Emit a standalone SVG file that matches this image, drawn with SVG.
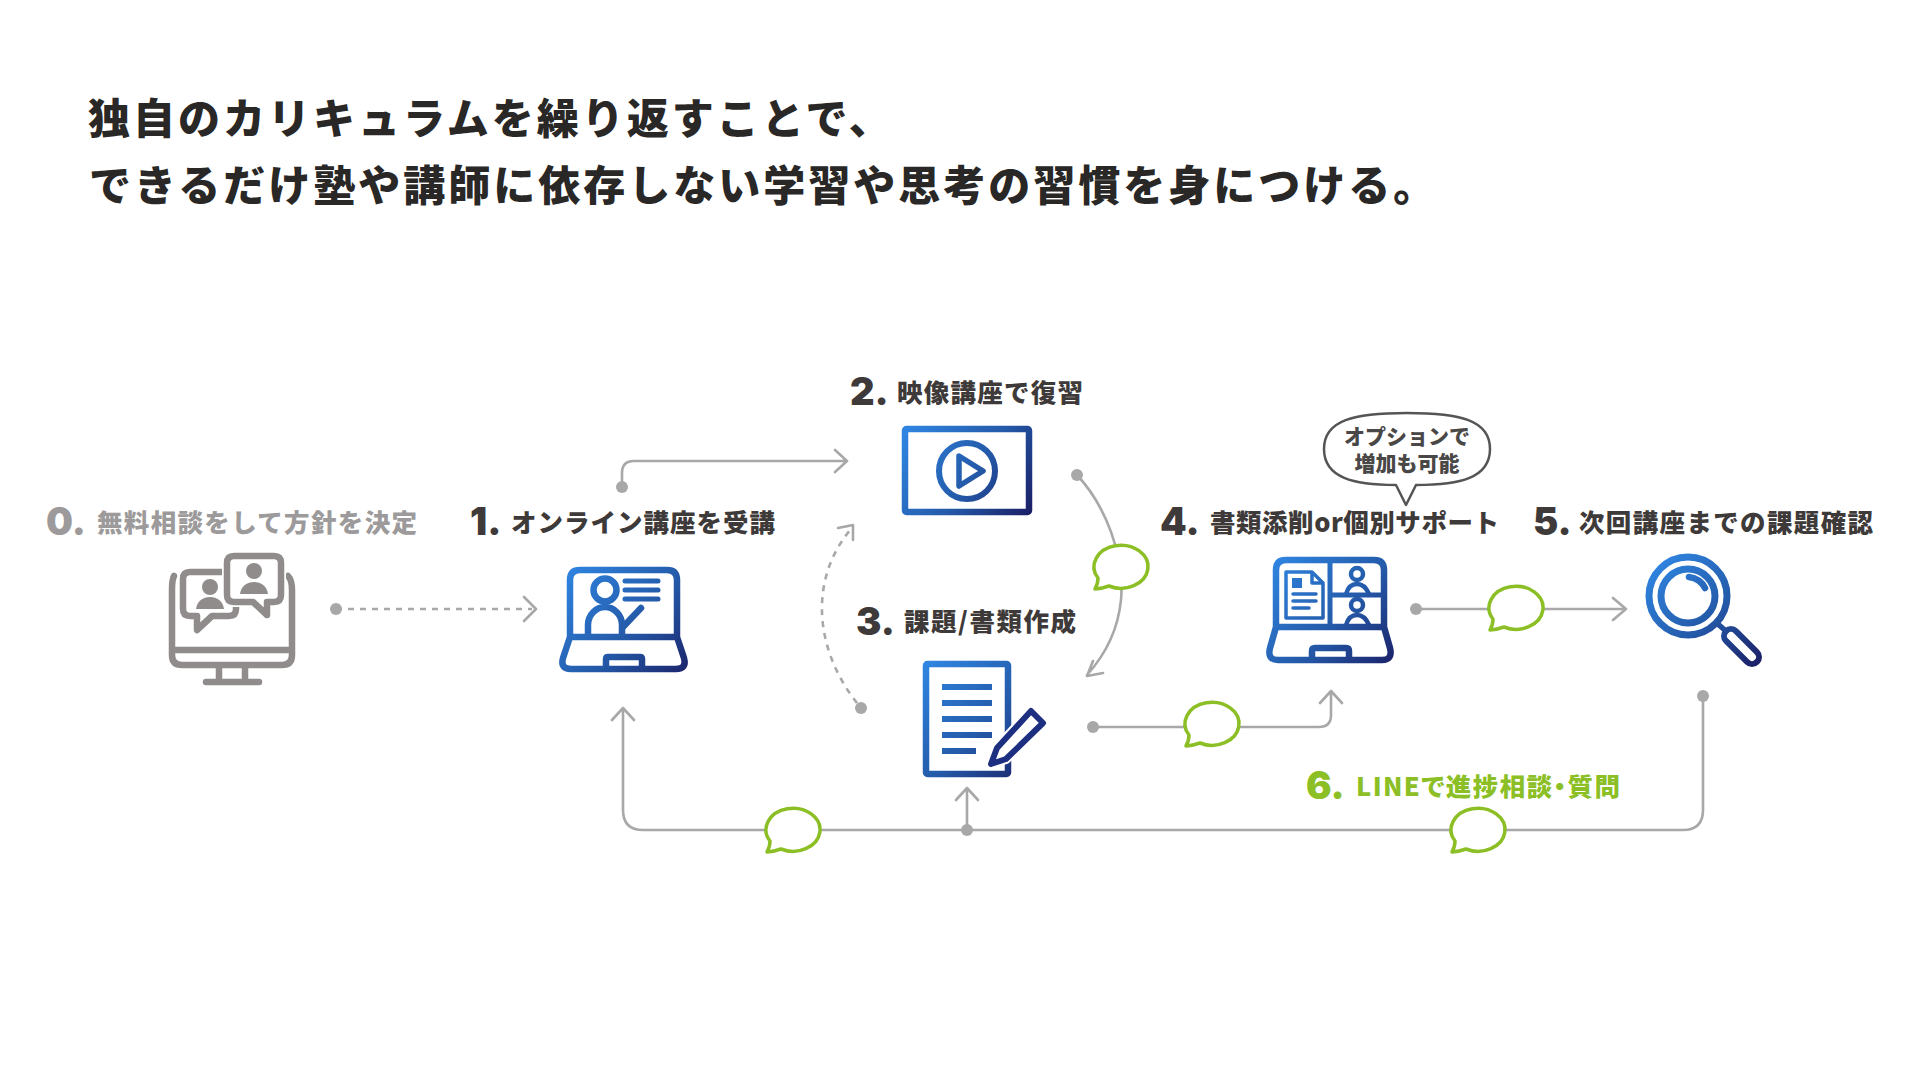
<svg xmlns="http://www.w3.org/2000/svg" xmlns:xlink="http://www.w3.org/1999/xlink" width="1920" height="1080" viewBox="0 0 1920 1080">
<style>
text{font-family:"Noto Sans CJK JP","Noto Sans",sans-serif}
.title{font-size:42px;font-weight:900;fill:#2a2727;letter-spacing:3px}
.num{font-family:Inter,"Liberation Sans",sans-serif;font-size:38px;font-weight:900;fill:#3e3a39}
.lab{font-size:25.500px;font-weight:900;fill:#3e3a39}
.gr{fill:#9c9a9a}
.gn{fill:#8cbf25}
.palt{font-feature-settings:"palt"}
.opt{font-size:21px;font-weight:900;fill:#4a4747;text-anchor:middle}
.c{fill:none;stroke:#a8a8a8;stroke-width:2.600;stroke-linecap:round;stroke-linejoin:round}
.d{stroke-dasharray:6 6;stroke-linecap:butt}
.dot{fill:#a8a8a8}
.chat{fill:#fff;stroke:#8cbf25;stroke-width:3.500;stroke-linejoin:round}
.ig{fill:none;stroke:#8f8c8b;stroke-width:6.500;stroke-linecap:round;stroke-linejoin:round}
.igf{fill:#8f8c8b}
.w{fill:#fff}
</style>
<defs>
<linearGradient id="base"><stop offset="0" stop-color="#2f86e2"/><stop offset=".55" stop-color="#2459a8"/><stop offset="1" stop-color="#1b1f66"/></linearGradient>
<linearGradient id="g1" xlink:href="#base" gradientUnits="userSpaceOnUse" x1="565" y1="565" x2="690" y2="680"/>
<linearGradient id="g2" xlink:href="#base" gradientUnits="userSpaceOnUse" x1="905" y1="428" x2="1030" y2="515"/>
<linearGradient id="g3" xlink:href="#base" gradientUnits="userSpaceOnUse" x1="925" y1="663" x2="1040" y2="775"/>
<linearGradient id="g4" xlink:href="#base" gradientUnits="userSpaceOnUse" x1="1272" y1="558" x2="1395" y2="668"/>
<linearGradient id="g5" xlink:href="#base" gradientUnits="userSpaceOnUse" x1="1655" y1="560" x2="1758" y2="665"/>
<path id="chat" class="chat" d="M-24 10A27 21.500 0 1 1-13 18Q-20 20.500-27 21Q-24 16-24 10Z"/>
</defs>
<rect width="1920" height="1080" fill="#fff"/>
<g id="heading">
<text class="title" x="88" y="134">独自のカリキュラムを繰り返すことで、</text>
<text class="title" x="89" y="201">できるだけ塾や講師に依存しない学習や思考の習慣を身につける。</text>
</g>
<g id="connectors">
<path class="c d" d="M336 609H532"/><path class="c" d="M524 597L536 609L524 621"/><circle class="dot" cx="336" cy="609" r="6"/>
<path class="c" d="M622 487V473Q622 461 634 461H846M835 450L847 461L835 472"/><circle class="dot" cx="622" cy="487" r="6"/>
<path class="c d" d="M857 703C815 650 808 580 851 529"/><path class="c" d="M838 528L853 525L853 540"/><circle class="dot" cx="861" cy="708" r="6"/>
<path class="c" d="M1077 475C1105 505 1125 555 1121 600C1118 630 1105 655 1087 675M1093 661L1087 676L1103 673"/><circle class="dot" cx="1077" cy="475" r="6"/>
<path class="c" d="M1093 727H1319Q1331 727 1331 715V692M1320 703L1331 691L1342 703"/><circle class="dot" cx="1093" cy="727" r="6"/>
<path class="c" d="M1416 609H1625M1613 598L1626 609L1613 620"/><circle class="dot" cx="1416" cy="609" r="6"/>
<path class="c" d="M1703 696V810Q1703 830 1683 830H643Q623 830 623 810V708M612 720L623 708L634 720"/><circle class="dot" cx="1703" cy="696" r="6"/>
<path class="c" d="M967 830V789M956 800L967 788L978 800"/><circle class="dot" cx="967" cy="830" r="6"/>
<use xlink:href="#chat" x="1122" y="568"/>
<use xlink:href="#chat" x="1213" y="725"/>
<use xlink:href="#chat" x="1517" y="609"/>
<use xlink:href="#chat" x="794" y="831"/>
<use xlink:href="#chat" x="1479" y="831"/>
</g>
<g id="node0">
<text class="num gr" x="46" y="535">0.</text>
<text class="lab gr" x="97" y="532" textLength="320">無料相談をして方針を決定</text>
<path class="ig" d="M174 576Q172 580 172 590V655Q172 665 182 665H282Q292 665 292 655V590Q292 580 288 576M172 650H292M219 668V682M245 668V682M206 682H259"/>
<path d="M190 572H229Q236 572 236 579V609Q236 616 229 616H212L197 630V616H190Q183 616 183 609V579Q183 572 190 572Z" fill="#fff" stroke="#fff" stroke-width="10" stroke-linejoin="round"/>
<path class="ig w" d="M190 572H229Q236 572 236 579V609Q236 616 229 616H212L197 630V616H190Q183 616 183 609V579Q183 572 190 572Z"/>
<circle class="igf" cx="210" cy="587" r="8"/><path class="igf" d="M196 609C197 601 203 597 210 597C217 597 223 601 224 609Z"/>
<path d="M234 556H274Q281 556 281 563V595Q281 602 274 602H267V615L253 602H234Q227 602 227 595V563Q227 556 234 556Z" fill="#fff" stroke="#fff" stroke-width="10" stroke-linejoin="round"/>
<path class="ig w" d="M234 556H274Q281 556 281 563V595Q281 602 274 602H267V615L253 602H234Q227 602 227 595V563Q227 556 234 556Z"/>
<circle class="igf" cx="254" cy="571" r="8"/><path class="igf" d="M240 594C241 586 247 582 254 582C261 582 267 586 268 594Z"/>
</g>
<g id="node1">
<text class="num" x="470" y="535">1.</text>
<text class="lab" x="511" y="532" textLength="264">オンライン講座を受講</text>
<g fill="none" stroke="url(#g1)" stroke-width="6.500" stroke-linecap="round" stroke-linejoin="round">
<path d="M570 637V580Q570 570 580 570H667Q677 570 677 580V637M570 637H677M570 637L563 658Q560 669 571 669H676Q687 669 684 658L677 637"/>
<path d="M606 668V659Q606 657 608 657H640Q642 657 642 659V668"/>
<circle cx="605" cy="590" r="11.500"/>
<path d="M588 636V625C588 615 596 607 605 607C614 607 622 615 622 625V636"/>
<path d="M623 627L641 608"/>
<path stroke-width="5" d="M625 581H658M625 590H658M625 599H658"/>
</g>
</g>
<g id="node2">
<text class="num" x="850" y="405">2.</text>
<text class="lab" x="897" y="402" textLength="186">映像講座で復習</text>
<rect x="905" y="429" width="124" height="83" rx="1.500" fill="none" stroke="url(#g2)" stroke-width="6.500"/>
<circle cx="967" cy="471" r="28" fill="none" stroke="url(#g2)" stroke-width="6"/>
<path d="M959 456L983 471L959 486Z" fill="none" stroke="url(#g2)" stroke-width="5.500" stroke-linejoin="round"/>
</g>
<g id="node3">
<text class="num" x="856" y="635">3.</text>
<text class="lab" x="904" y="631" textLength="172">課題/書類作成</text>
<rect x="926" y="664" width="82" height="110" rx="1.500" fill="none" stroke="url(#g3)" stroke-width="6.500"/>
<g fill="url(#g3)"><rect x="942" y="684" width="50" height="6"/><rect x="942" y="700" width="50" height="6"/><rect x="942" y="716" width="50" height="6"/><rect x="942" y="732" width="50" height="6"/><rect x="942" y="748" width="34" height="6"/></g>
<path d="M1031 711L1043 723L1006 759L991 764L997 748Z" fill="#fff" stroke="#fff" stroke-width="10" stroke-linejoin="round"/>
<path d="M1031 711L1043 723L1006 759L991 764L997 748Z" fill="#fff" stroke="#1d2f80" stroke-width="6" stroke-linejoin="round"/>
</g>
<g id="node4">
<text class="num" x="1160" y="535">4.</text>
<text class="lab" x="1210" y="532" textLength="289">書類添削or個別サポート</text>
<g fill="none" stroke="url(#g4)" stroke-width="6.500" stroke-linecap="round" stroke-linejoin="round">
<path d="M1276 627V570Q1276 560 1286 560H1374Q1384 560 1384 570V627M1276 627H1384M1276 627L1270 648Q1267 660 1278 660H1382Q1393 660 1390 648L1384 627"/>
<path d="M1312 659V651Q1312 648 1315 648H1346Q1349 648 1349 651V659"/>
<path stroke-width="5" d="M1330 561V626M1330 595H1384"/>
<path stroke-width="3.500" d="M1286 572H1312L1323 583V618H1286ZM1312 572V583H1323"/>
<path stroke-width="3.500" d="M1293 594H1316M1293 601H1316M1293 608H1309"/>
<circle stroke-width="4.500" cx="1357" cy="574" r="6"/><circle stroke-width="4.500" cx="1357" cy="605" r="6"/>
<path stroke-width="4.500" d="M1346 594C1348 587 1352 584 1357 584C1362 584 1366 587 1369 594M1346 625C1348 618 1352 615 1357 615C1362 615 1366 618 1369 625"/>
</g>
<rect x="1292" y="578" width="10" height="10" fill="url(#g4)"/>
</g>
<g id="node5">
<text class="num" x="1533" y="535">5.</text>
<text class="lab" x="1579" y="532" textLength="294">次回講座までの課題確認</text>
<g fill="none" stroke="url(#g5)" stroke-linecap="round">
<circle cx="1688" cy="596" r="39" stroke-width="7"/>
<circle cx="1688" cy="596" r="27" stroke-width="7"/>
<path stroke-width="6.500" d="M1689 577C1696 578 1702 582 1705 588"/>
<path stroke-width="5.500" d="M1719 625L1727 632"/>
<path stroke-width="20" d="M1731 636L1752 657"/>
</g>
<path d="M1731 636L1752 657" stroke="#fff" stroke-width="8" stroke-linecap="round"/>
</g>
<g id="node6">
<text class="num gn" x="1306" y="799">6.</text>
<text class="lab gn palt" x="1356" y="796" textLength="264">LINEで進捗相談・質問</text>
</g>
<g id="option">
<path d="M1407 413C1460 413 1490 420 1490 449C1490 478 1460 485 1416 485L1406 505L1396 485C1354 485 1324 478 1324 449C1324 420 1354 413 1407 413Z" fill="#fff" stroke="#555" stroke-width="2.500" stroke-linejoin="round"/>
<text class="opt" x="1407" y="444">オプションで</text>
<text class="opt" x="1407" y="471">増加も可能</text>
</g>
</svg>
